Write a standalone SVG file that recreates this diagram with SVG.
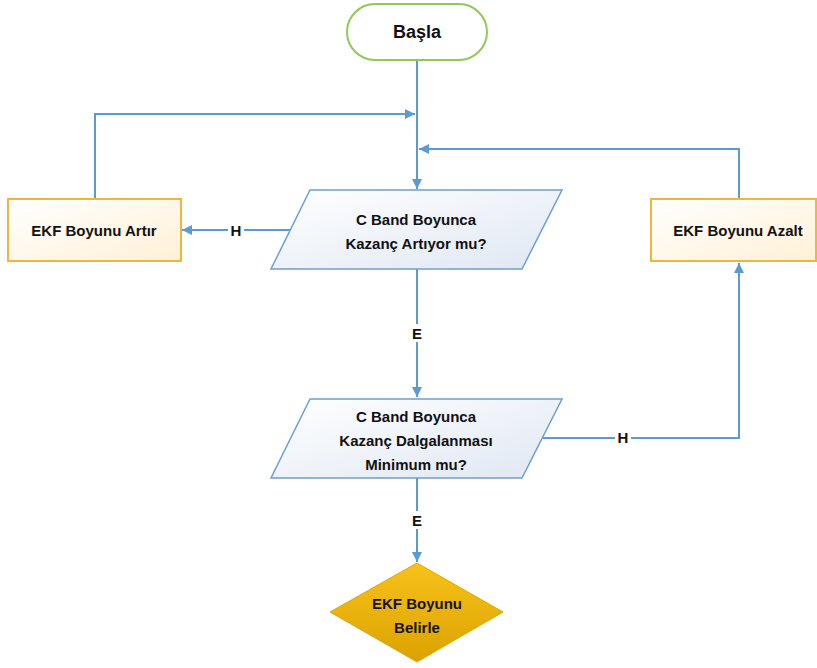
<svg xmlns="http://www.w3.org/2000/svg" width="817" height="668" viewBox="0 0 817 668">
<defs>
<linearGradient id="gBlue" x1="0" y1="0" x2="1" y2="1"><stop offset="0" stop-color="#ffffff"/><stop offset="1" stop-color="#dfe7f3"/></linearGradient>
<linearGradient id="gOrange" x1="0" y1="0" x2="1" y2="1"><stop offset="0" stop-color="#ffffff"/><stop offset="1" stop-color="#fff1d6"/></linearGradient>
<linearGradient id="gGold" x1="0" y1="0" x2="0" y2="1"><stop offset="0" stop-color="#f7c21a"/><stop offset="1" stop-color="#dba200"/></linearGradient>
<marker id="arr" viewBox="0 0 10 10" refX="10" refY="5" markerWidth="10" markerHeight="10" markerUnits="userSpaceOnUse" orient="auto"><path d="M0,0 L10,5 L0,10 z" fill="#5b9bd5"/></marker>
</defs>
<style>
text{font-family:"Liberation Sans",Arial,sans-serif;font-weight:bold;fill:#111;text-anchor:middle;dominant-baseline:central}
.t{font-size:15px}
.c{fill:none;stroke:#5b9bd5;stroke-width:2}
.lbl{font-size:15px}
.para{fill:url(#gBlue);stroke:#6c9fd6;stroke-width:1.5}
.box{fill:url(#gOrange);stroke:#efb53c;stroke-width:2}
</style>
<rect width="817" height="668" fill="#ffffff"/>
<g id="connectors">
<path class="c" d="M417,60 V189" marker-end="url(#arr)"/>
<path class="c" d="M95,199 V114 H415" marker-end="url(#arr)"/>
<path class="c" d="M739,199 V149 H419" marker-end="url(#arr)"/>
<path class="c" d="M290,230 H182" marker-end="url(#arr)"/>
<path class="c" d="M417,269 V397" marker-end="url(#arr)"/>
<path class="c" d="M543,438 H739 V263" marker-end="url(#arr)"/>
<path class="c" d="M417,478 V562" marker-end="url(#arr)"/>
<rect x="228" y="221" width="16" height="18" fill="#fff"/>
<text class="lbl" x="236" y="230">H</text>
<rect x="409" y="324" width="16" height="18" fill="#fff"/>
<text class="lbl" x="417" y="333">E</text>
<rect x="615" y="428" width="16" height="18" fill="#fff"/>
<text class="lbl" x="623" y="437">H</text>
<rect x="409" y="511" width="16" height="18" fill="#fff"/>
<text class="lbl" x="417" y="520">E</text>
</g>
<g id="basla">
<rect x="347" y="4" width="140" height="56" rx="28" fill="#fff" stroke="#92c85a" stroke-width="2"/>
<text x="417" y="32" style="font-size:18px">Başla</text>
</g>
<g id="q1">
<polygon class="para" points="310,190 562,190 522,269 271,269"/>
<text class="t" x="416" y="219">C Band Boyunca</text>
<text class="t" x="416" y="243">Kazanç Artıyor mu?</text>
</g>
<g id="artir">
<rect class="box" x="8" y="199" width="173" height="62"/>
<text class="t" x="94" y="230">EKF Boyunu Artır</text>
</g>
<g id="azalt">
<rect class="box" x="651" y="199" width="165" height="62"/>
<text class="t" x="738" y="230">EKF Boyunu Azalt</text>
</g>
<g id="q2">
<polygon class="para" points="310,399 562,399 522,478 271,478"/>
<text class="t" x="416" y="416">C Band Boyunca</text>
<text class="t" x="416" y="440">Kazanç Dalgalanması</text>
<text class="t" x="416" y="464">Minimum mu?</text>
</g>
<g id="belirle">
<polygon points="417,563 503,612 417,662 330,612" fill="url(#gGold)" stroke="#e0a900" stroke-width="1"/>
<text class="t" x="417" y="603">EKF Boyunu</text>
<text class="t" x="417" y="627">Belirle</text>
</g>
</svg>
